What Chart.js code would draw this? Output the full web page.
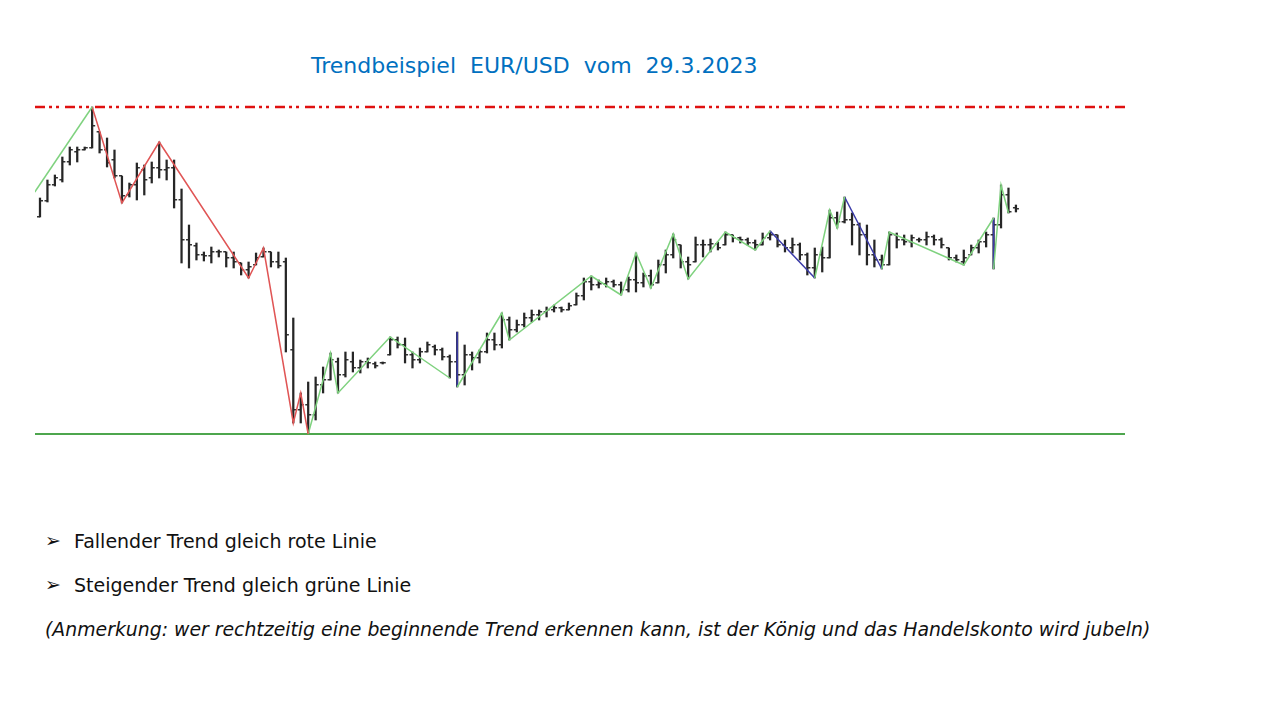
<!DOCTYPE html>
<html lang="de">
<head>
<meta charset="UTF-8">
<title>Trendbeispiel EUR/USD</title>
<script src="https://cdn.jsdelivr.net/npm/chart.js@4.4.1/dist/chart.umd.min.js"></script>
<style>
    body { margin: 0; width: 1280px; height: 720px; background: #fff; position: relative; overflow: hidden; font-family: "DejaVu Sans", Verdana, sans-serif; }
    #title { position: absolute; left: 311px; top: 53px; font-size: 22px; color: #0070c0; white-space: pre; }
    #chartBox { position: absolute; left: 35px; top: 100px; width: 1090px; height: 345px; }
    .bullet { position: absolute; left: 45px; font-size: 19px; color: #111; white-space: pre; }
    .bullet b { font-weight: normal; font-size: 19px; position: relative; top: -1px; }
    .bullet span { position: absolute; left: 29px; top: 0; }
    #note { position: absolute; left: 45px; top: 619px; font-size: 18.85px; font-style: italic; color: #111; white-space: pre; }
</style>
</head>
<body>
<div id="title">Trendbeispiel  EUR/USD  vom  29.3.2023</div>
<div id="chartBox"><canvas id="ohlcChart"></canvas></div>
<div class="bullet" style="top:530px"><b>➢</b><span>Fallender Trend gleich rote Linie</span></div>
<div class="bullet" style="top:574px"><b>➢</b><span>Steigender Trend gleich grüne Linie</span></div>
<div id="note">(Anmerkung: wer rechtzeitig eine beginnende Trend erkennen kann, ist der König und das Handelskonto wird jubeln)</div>

<script>
// EUR/USD Kerzen (OHLC), Balken 0..131
const opens = [
    1.0923, 1.0939, 1.0955, 1.0960, 1.0978, 1.0988, 1.0990, 1.0992, 1.1008, 1.0990,
    1.0980, 1.0964, 1.0945, 1.0955, 1.0970, 1.0962, 1.0972, 1.0970, 1.0972, 1.0940,
    1.0900, 1.0894, 1.0885, 1.0884, 1.0888, 1.0888, 1.0882, 1.0877, 1.0870, 1.0875,
    1.0883, 1.0888, 1.0878, 1.0878, 1.0790, 1.0730, 1.0735, 1.0725, 1.0755, 1.0760,
    1.0778, 1.0765, 1.0778, 1.0772, 1.0778, 1.0776, 1.0777, 1.0785, 1.0800, 1.0795,
    1.0785, 1.0780, 1.0788, 1.0793, 1.0790, 1.0783, 1.0778, 1.0765, 1.0785, 1.0782,
    1.0788, 1.0800, 1.0795, 1.0820, 1.0810, 1.0815, 1.0822, 1.0825, 1.0828, 1.0830,
    1.0832, 1.0830, 1.0835, 1.0844, 1.0858, 1.0855, 1.0856, 1.0858, 1.0855, 1.0850,
    1.0860, 1.0857, 1.0864, 1.0857, 1.0875, 1.0885, 1.0895, 1.0878, 1.0878, 1.0895,
    1.0895, 1.0896, 1.0895, 1.0905, 1.0902, 1.0900, 1.0897, 1.0895, 1.0902, 1.0905,
    1.0895, 1.0892, 1.0895, 1.0885, 1.0872, 1.0885, 1.0882, 1.0922, 1.0918, 1.0920,
    1.0915, 1.0905, 1.0885, 1.0880, 1.0875, 1.0905, 1.0900, 1.0898, 1.0900, 1.0900,
    1.0903, 1.0900, 1.0892, 1.0882, 1.0878, 1.0885, 1.0892, 1.0898, 1.0905, 1.0915,
    1.0945, 1.0932
];
const highs = [
    1.0942, 1.0960, 1.0965, 1.0983, 1.0993, 1.0993, 1.0993, 1.1033, 1.1008, 1.1002,
    1.0990, 1.0964, 1.0957, 1.0977, 1.0975, 1.0978, 1.0998, 1.0980, 1.0980, 1.0951,
    1.0915, 1.0897, 1.0888, 1.0893, 1.0890, 1.0888, 1.0888, 1.0877, 1.0878, 1.0887,
    1.0892, 1.0888, 1.0888, 1.0882, 1.0822, 1.0747, 1.0758, 1.0763, 1.0773, 1.0787,
    1.0782, 1.0788, 1.0788, 1.0780, 1.0782, 1.0778, 1.0778, 1.0803, 1.0803, 1.0802,
    1.0788, 1.0792, 1.0798, 1.0795, 1.0792, 1.0785, 1.0808, 1.0795, 1.0788, 1.0790,
    1.0807, 1.0807, 1.0827, 1.0823, 1.0820, 1.0827, 1.0830, 1.0830, 1.0833, 1.0835,
    1.0833, 1.0837, 1.0847, 1.0862, 1.0864, 1.0860, 1.0862, 1.0860, 1.0858, 1.0863,
    1.0887, 1.0867, 1.0870, 1.0880, 1.0890, 1.0906, 1.0895, 1.0883, 1.0903, 1.0900,
    1.0901, 1.0898, 1.0908, 1.0905, 1.0903, 1.0902, 1.0900, 1.0907, 1.0909, 1.0905,
    1.0900, 1.0902, 1.0897, 1.0887, 1.0892, 1.0893, 1.0930, 1.0928, 1.0943, 1.0927,
    1.0917, 1.0915, 1.0900, 1.0885, 1.0908, 1.0907, 1.0905, 1.0905, 1.0902, 1.0908,
    1.0905, 1.0902, 1.0892, 1.0885, 1.0890, 1.0895, 1.0900, 1.0908, 1.0922, 1.0955,
    1.0952, 1.0935
];
const lows = [
    1.0923, 1.0938, 1.0954, 1.0958, 1.0975, 1.0978, 1.0990, 1.0992, 1.0987, 1.0973,
    1.0962, 1.0937, 1.0943, 1.0940, 1.0945, 1.0957, 1.0962, 1.0960, 1.0932, 1.0877,
    1.0872, 1.0880, 1.0879, 1.0877, 1.0883, 1.0873, 1.0872, 1.0865, 1.0862, 1.0875,
    1.0883, 1.0873, 1.0872, 1.0788, 1.0717, 1.0717, 1.0706, 1.0720, 1.0747, 1.0760,
    1.0747, 1.0763, 1.0768, 1.0767, 1.0772, 1.0772, 1.0776, 1.0785, 1.0792, 1.0777,
    1.0772, 1.0777, 1.0788, 1.0785, 1.0780, 1.0762, 1.0753, 1.0755, 1.0770, 1.0777,
    1.0787, 1.0790, 1.0792, 1.0800, 1.0808, 1.0813, 1.0818, 1.0820, 1.0823, 1.0828,
    1.0828, 1.0830, 1.0835, 1.0840, 1.0850, 1.0852, 1.0853, 1.0853, 1.0845, 1.0848,
    1.0848, 1.0853, 1.0852, 1.0857, 1.0867, 1.0882, 1.0872, 1.0861, 1.0878, 1.0883,
    1.0888, 1.0890, 1.0895, 1.0898, 1.0897, 1.0895, 1.0890, 1.0895, 1.0900, 1.0893,
    1.0888, 1.0887, 1.0880, 1.0865, 1.0862, 1.0868, 1.0882, 1.0912, 1.0917, 1.0895,
    1.0885, 1.0875, 1.0873, 1.0871, 1.0875, 1.0892, 1.0895, 1.0893, 1.0898, 1.0895,
    1.0895, 1.0892, 1.0880, 1.0878, 1.0875, 1.0885, 1.0887, 1.0893, 1.0871, 1.0912,
    1.0927, 1.0928
];
const closes = [
    1.0939, 1.0955, 1.0962, 1.0978, 1.0990, 1.0990, 1.0992, 1.1014, 1.0990, 1.0977,
    1.0964, 1.0944, 1.0955, 1.0972, 1.0960, 1.0972, 1.0970, 1.0972, 1.0940, 1.0900,
    1.0895, 1.0885, 1.0884, 1.0888, 1.0888, 1.0882, 1.0878, 1.0870, 1.0873, 1.0882,
    1.0888, 1.0878, 1.0874, 1.0805, 1.0730, 1.0735, 1.0725, 1.0755, 1.0760, 1.0780,
    1.0765, 1.0780, 1.0772, 1.0778, 1.0777, 1.0774, 1.0777, 1.0800, 1.0795, 1.0785,
    1.0780, 1.0788, 1.0795, 1.0790, 1.0783, 1.0778, 1.0765, 1.0785, 1.0782, 1.0788,
    1.0800, 1.0795, 1.0820, 1.0810, 1.0815, 1.0822, 1.0825, 1.0828, 1.0830, 1.0832,
    1.0830, 1.0834, 1.0844, 1.0858, 1.0855, 1.0856, 1.0858, 1.0855, 1.0850, 1.0860,
    1.0857, 1.0864, 1.0855, 1.0875, 1.0885, 1.0900, 1.0878, 1.0875, 1.0895, 1.0895,
    1.0896, 1.0892, 1.0905, 1.0902, 1.0900, 1.0897, 1.0895, 1.0902, 1.0905, 1.0895,
    1.0892, 1.0895, 1.0885, 1.0872, 1.0885, 1.0882, 1.0922, 1.0918, 1.0920, 1.0915,
    1.0905, 1.0885, 1.0880, 1.0875, 1.0905, 1.0900, 1.0898, 1.0902, 1.0900, 1.0903,
    1.0900, 1.0895, 1.0882, 1.0880, 1.0882, 1.0892, 1.0898, 1.0905, 1.0915, 1.0945,
    1.0928, 1.0931
];

// Trend-Zickzack: [Balken, Kurs]
const upStart   = [[-0.7, 1.0948], [7, 1.1033]];
const downTrend = [[7, 1.1033], [11, 1.0937], [16, 1.0998], [28, 1.0862], [30, 1.0892],
                   [34, 1.0717], [35, 1.0747], [36, 1.0706]];
const upTrend1  = [[36, 1.0706], [39, 1.0787], [40, 1.0747], [47, 1.0803], [55, 1.0762]];
const upTrend2  = [[56, 1.0753], [62, 1.0827], [63, 1.0800], [74, 1.0864], [78, 1.0845],
                   [80, 1.0887], [82, 1.0852], [85, 1.0906], [87, 1.0861], [92, 1.0908],
                   [96, 1.0890], [98, 1.0909]];
const upTrend3  = [[104, 1.0862], [106, 1.0930], [107, 1.0912], [108, 1.0943]];
const upTrend4  = [[113, 1.0871], [114, 1.0908], [124, 1.0875], [128, 1.0922]];
const upTrend5  = [[128, 1.0871], [129, 1.0955], [130, 1.0927]];
const blueLegs  = [
    [[56, 1.0808], [56, 1.0753]],
    [[98, 1.0909], [104, 1.0862]],
    [[108, 1.0943], [113, 1.0871]],
    [[128, 1.0922], [128, 1.0871]]
];

// Widerstand / Unterstuetzung
const resistance = 1.1033;
const support = 1.0706;

const xMin = -0.67, xMax = 145.64;

function toPts(arr) { return arr.map(p => ({ x: p[0], y: p[1] })); }

// kleine Striche fuer Eroeffnung (links) und Schluss (rechts)
function tickImage(leftSide) {
    const c = document.createElement('canvas');
    c.width = 8; c.height = 2;
    const g = c.getContext('2d');
    g.fillStyle = '#333';
    g.fillRect(leftSide ? 1 : 4, 0, 3, 1.5);
    return c;
}
const openTick = tickImage(true);
const closeTick = tickImage(false);

function zig(arr, color) {
    return {
        type: 'line', data: toPts(arr), borderColor: color, borderWidth: 1.5,
        pointRadius: 0, tension: 0, fill: false, order: 1
    };
}

const datasets = [
    {
        type: 'bar',
        data: highs.map((h, i) => ({ x: i, y: [lows[i], h] })),
        backgroundColor: '#262626', barThickness: 1.6, grouped: false, order: 3
    },
    {
        type: 'scatter',
        data: opens.map((v, i) => ({ x: i, y: v })),
        pointStyle: openTick, pointRadius: 4, order: 3
    },
    {
        type: 'scatter',
        data: closes.map((v, i) => ({ x: i, y: v })),
        pointStyle: closeTick, pointRadius: 4, order: 3
    },
    {
        type: 'line', data: [{ x: xMin, y: resistance }, { x: xMax, y: resistance }],
        borderColor: '#e01010', borderWidth: 2.5, borderDash: [10, 4, 3, 4, 3, 6],
        pointRadius: 0, order: 2
    },
    {
        type: 'line', data: [{ x: xMin, y: support }, { x: xMax, y: support }],
        borderColor: '#4ea64e', borderWidth: 2, pointRadius: 0, order: 2
    },
    zig(upStart, '#7fd27f'),
    zig(downTrend, '#e05555'),
    zig(upTrend1, '#7fd27f'),
    zig(upTrend2, '#7fd27f'),
    zig(upTrend3, '#7fd27f'),
    zig(upTrend4, '#7fd27f'),
    zig(upTrend5, '#7fd27f')
];
blueLegs.forEach(leg => datasets.push(zig(leg, '#3a3aa8')));

new Chart(document.getElementById('ohlcChart'), {
    type: 'bar',
    data: { datasets: datasets },
    options: {
        responsive: true,
        maintainAspectRatio: false,
        animation: false,
        layout: { padding: 0, autoPadding: false },
        plugins: { legend: { display: false }, tooltip: { enabled: false } },
        scales: {
            x: { type: 'linear', min: xMin, max: xMax, offset: false, display: false },
            y: { min: 1.0695, max: 1.1040, display: false }
        }
    }
});
</script>
</body>
</html>
